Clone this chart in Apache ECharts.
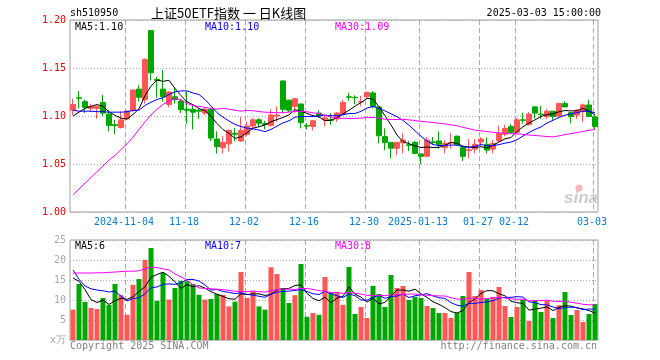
<!DOCTYPE html>
<html>
<head>
<meta charset="utf-8">
<script src="https://cdn.jsdelivr.net/npm/echarts@6/dist/echarts.min.js"></script>
<style>html,body{margin:0;padding:0;background:#fff}#main{width:660px;height:360px}</style>
</head>
<body>
<div id="main"></div>
<script>
// ---- data ----
const dates = [
 '2024-10-22','2024-10-23','2024-10-24','2024-10-25','2024-10-28','2024-10-29','2024-10-30','2024-10-31','2024-11-01',
 '2024-11-04','2024-11-05','2024-11-06','2024-11-07','2024-11-08','2024-11-11','2024-11-12','2024-11-13','2024-11-14','2024-11-15',
 '2024-11-18','2024-11-19','2024-11-20','2024-11-21','2024-11-22','2024-11-25','2024-11-26','2024-11-27','2024-11-28','2024-11-29',
 '2024-12-02','2024-12-03','2024-12-04','2024-12-05','2024-12-06','2024-12-09','2024-12-10','2024-12-11','2024-12-12','2024-12-13',
 '2024-12-16','2024-12-17','2024-12-18','2024-12-19','2024-12-20','2024-12-23','2024-12-24','2024-12-25','2024-12-26','2024-12-27',
 '2024-12-30','2024-12-31','2025-01-02','2025-01-03','2025-01-06','2025-01-07','2025-01-08','2025-01-09','2025-01-10',
 '2025-01-13','2025-01-14','2025-01-15','2025-01-16','2025-01-17','2025-01-20','2025-01-21','2025-01-22','2025-01-23','2025-01-24',
 '2025-01-27','2025-02-05','2025-02-06','2025-02-07','2025-02-10','2025-02-11',
 '2025-02-12','2025-02-13','2025-02-14','2025-02-17','2025-02-18','2025-02-19','2025-02-20','2025-02-21','2025-02-24','2025-02-25','2025-02-26','2025-02-27','2025-02-28',
 '2025-03-03'
];
const opens = [1.106,1.119,1.115,1.108,1.108,1.114,1.102,1.091,1.088,1.097,1.106,1.128,1.117,1.189,1.138,1.128,1.112,1.120,1.1155,1.107,1.107,1.106,1.103,1.107,1.076,1.067,1.071,1.082,1.074,1.081,1.0895,1.096,1.092,1.090,1.100,1.1365,1.1165,1.110,1.1125,1.090,1.089,1.103,1.096,1.096,1.097,1.102,1.120,1.1195,1.1145,1.120,1.124,1.1095,1.0785,1.0725,1.0665,1.072,1.070,1.0725,1.0605,1.058,1.073,1.074,1.067,1.072,1.079,1.067,1.064,1.0655,1.073,1.0705,1.0655,1.074,1.081,1.089,1.083,1.096,1.091,1.1095,1.102,1.0995,1.105,1.100,1.113,1.1035,1.101,1.1045,1.1115,1.099];
const closes = [1.112,1.1185,1.109,1.110,1.110,1.103,1.090,1.090,1.096,1.105,1.127,1.1195,1.159,1.145,1.137,1.120,1.125,1.117,1.1065,1.106,1.104,1.105,1.107,1.077,1.068,1.0725,1.085,1.081,1.085,1.0895,1.096,1.0925,1.091,1.101,1.101,1.107,1.106,1.118,1.093,1.0895,1.095,1.100,1.098,1.0955,1.103,1.114,1.1195,1.119,1.115,1.1245,1.110,1.0795,1.0725,1.0665,1.0725,1.075,1.0695,1.061,1.058,1.075,1.0725,1.0705,1.0715,1.0725,1.0705,1.058,1.0648,1.0705,1.076,1.0645,1.0715,1.082,1.087,1.083,1.096,1.0955,1.102,1.103,1.1015,1.105,1.0995,1.113,1.1095,1.0995,1.106,1.1115,1.0995,1.089];
const highs = [1.118,1.126,1.117,1.113,1.111,1.122,1.106,1.096,1.105,1.106,1.128,1.132,1.160,1.189,1.141,1.148,1.126,1.130,1.118,1.126,1.111,1.108,1.109,1.108,1.084,1.079,1.086,1.0875,1.099,1.094,1.098,1.098,1.095,1.107,1.110,1.137,1.117,1.119,1.113,1.0925,1.096,1.106,1.101,1.103,1.104,1.117,1.124,1.1215,1.121,1.1255,1.126,1.110,1.087,1.073,1.073,1.082,1.074,1.074,1.061,1.078,1.078,1.084,1.075,1.082,1.0795,1.068,1.076,1.076,1.078,1.0775,1.075,1.090,1.091,1.0915,1.098,1.1035,1.104,1.110,1.1105,1.107,1.105,1.114,1.1155,1.104,1.107,1.113,1.117,1.102];
const lows = [1.101,1.108,1.103,1.104,1.097,1.100,1.084,1.081,1.087,1.096,1.104,1.115,1.113,1.137,1.119,1.115,1.109,1.113,1.103,1.092,1.086,1.097,1.101,1.074,1.061,1.061,1.063,1.074,1.073,1.079,1.086,1.089,1.086,1.089,1.094,1.103,1.104,1.103,1.087,1.086,1.085,1.098,1.089,1.091,1.094,1.101,1.116,1.112,1.110,1.118,1.108,1.0715,1.0645,1.056,1.059,1.061,1.0635,1.060,1.050,1.057,1.070,1.066,1.061,1.066,1.069,1.053,1.056,1.061,1.069,1.061,1.061,1.073,1.079,1.082,1.082,1.092,1.090,1.097,1.097,1.097,1.095,1.099,1.109,1.0925,1.097,1.094,1.099,1.086];
const volumes = [7.6,14.0,9.5,8.0,7.75,10.5,8.8,14.0,11.2,6.3,13.8,15.25,20.0,23.0,9.8,16.75,10.1,13.0,14.8,14.7,14.0,11.3,10.1,10.25,11.5,11.3,8.4,9.6,17.0,10.5,12.2,8.4,7.6,18.2,16.5,13.0,9.25,11.2,19.0,5.8,6.75,6.3,15.75,11.8,11.8,8.8,18.25,6.5,8.25,5.5,13.5,11.5,8.25,16.25,13.0,13.5,10.0,10.8,10.5,8.5,8.0,6.75,6.75,5.5,6.75,11.0,17.0,11.0,12.5,10.25,10.75,13.25,8.5,5.75,8.25,10.1,4.75,9.75,7.0,9.8,5.5,8.7,12.0,6.25,7.5,4.5,6.5,9.0];
// moving-average values before enough history is visible
const ma5Head = [1.100,1.104,1.108,1.110];
const ma10Head = [1.106,1.105,1.105,1.105,1.1045,1.1045,1.104,1.104,1.104];
const ma30Head = [1.018,1.024,1.030,1.036,1.042,1.048,1.054,1.059,1.065,1.071,1.078,1.086,1.094,1.101,1.107,1.112,1.116,1.118,1.117,1.113,1.111,1.110,1.109,1.108,1.107,1.108,1.107,1.106,1.105];
const volMa5Head = [15.5,14.7,12.6,10.1];
const volMa10Head = [17.5,15.2,13.5,12.8,12.5,12.3,12.0,12.2,11.0];
const volMa30Head = [16.75,16.75,16.75,16.75,16.8,16.8,16.9,17.0,17.1,17.2,17.2,17.3,17.8,18.2,18.1,17.8,17.5,16.5,15.8,15.0,13.8,13.0,12.9,12.8,12.7,12.6,12.4,12.2,12.1];
// tick labels
const tickIndex = [9,19,29,39,49,58,68,74,87];
const tickText = ['2024-11-04','11-18','12-02','12-16','12-30','2025-01-13','01-27','02-12','03-03'];
const yTicks = [1.00,1.05,1.10,1.15,1.20];
const volTicks = [0,5,10,15,20,25];

// ---- drawing ----
const UP = '#ff5656', DOWN = '#00a600';
function movingAvg(arr, n, head) {
  return arr.map((v, i) => {
    if (i < n - 1) return head[i];
    let s = 0; for (let k = i - n + 1; k <= i; k++) s += arr[k];
    return +(s / n).toFixed(4);
  });
}
const ma5 = movingAvg(closes, 5, ma5Head);
const ma10 = movingAvg(closes, 10, ma10Head);
const ma30 = movingAvg(closes, 30, ma30Head);
const vma5 = movingAvg(volumes, 5, volMa5Head);
const vma10 = movingAvg(volumes, 10, volMa10Head);
const vma30 = movingAvg(volumes, 30, volMa30Head);
const last = a => a[a.length - 1];

const kData = dates.map((d, i) => [opens[i], closes[i], lows[i], highs[i]]);
const volData = volumes.map((v, i) => ({value: v, itemStyle: {color: closes[i] >= opens[i] ? UP : DOWN}}));

const MONO = 'DejaVu Sans Mono';
function txt(x, y, text, fill, font, align) {
  return {type: 'text', x: x, y: y, silent: true,
    style: {text: text, fill: fill, font: font, textAlign: align || 'left', align: align || 'left', textVerticalAlign: 'middle', verticalAlign: 'middle'}};
}
// dashed date separators: drawn as a group of short solid segments, just left of each labelled day's candle
function sepSeries(xIdx, yIdx, lo, hi) {
  return {type: 'custom', xAxisIndex: xIdx, yAxisIndex: yIdx, z: 3,
    data: tickIndex.map(i => [i, lo, hi]),
    encode: {x: 0, y: [1, 2]},
    renderItem: (params, api) => {
      const top = api.coord([api.value(0), api.value(2)]);
      const bot = api.coord([api.value(0), api.value(1)]);
      const band = api.size([1, 0])[0];
      const x = Math.round(top[0] - band * 5 / 12) + 0.5;
      const children = [];
      for (let y = top[1]; y < bot[1]; y += 8) {
        children.push({type: 'line', shape: {x1: x, y1: y, x2: x, y2: Math.min(y + 5, bot[1])},
          style: {stroke: '#a8a8a8', lineWidth: 1}});
      }
      return {type: 'group', children: children};
    }};
}

const chart = echarts.init(document.getElementById('main'), null, {renderer: 'canvas'});
chart.setOption({
  animation: false,
  backgroundColor: '#fff',
  grid: [
    {left: 70, top: 20, width: 528, height: 192, show: true, borderColor: '#a0a0a0', borderWidth: 1},
    {left: 70, top: 240, width: 528, height: 100, show: true, borderColor: '#a0a0a0', borderWidth: 1}
  ],
  xAxis: [
    {type: 'category', gridIndex: 0, data: dates, boundaryGap: true,
     axisLine: {show: false}, axisTick: {show: false},
     axisLabel: {interval: (i) => tickIndex.indexOf(i) >= 0, formatter: (v, i) => tickText[tickIndex.indexOf(i)] || '',
       color: '#0a7ad0', fontFamily: MONO, fontSize: 10, margin: 5, padding: [0, 6, 0, 0]},
     splitLine: {show: false}},
    {type: 'category', gridIndex: 1, data: dates, boundaryGap: true,
     axisLine: {show: false}, axisTick: {show: false}, axisLabel: {show: false}, splitLine: {show: false}}
  ],
  yAxis: [
    {type: 'value', gridIndex: 0, min: yTicks[0], max: yTicks[yTicks.length - 1], interval: 0.05,
     axisLine: {show: false}, axisTick: {show: false},
     axisLabel: {color: '#e60000', fontFamily: MONO, fontSize: 10, margin: 4, formatter: v => v.toFixed(2)},
     splitLine: {show: true, lineStyle: {color: '#aaaaaa', type: [1, 2], width: 1}}},
    {type: 'value', gridIndex: 1, min: volTicks[0], max: volTicks[volTicks.length - 1], interval: 5,
     axisLine: {show: false}, axisTick: {show: false},
     axisLabel: {color: '#a8a8a8', fontFamily: MONO, fontSize: 10, margin: 4, formatter: v => v === 0 ? 'x万' : String(v)},
     splitLine: {show: true, lineStyle: {color: '#aaaaaa', type: [1, 2], width: 1}}}
  ],
  series: [
    sepSeries(0, 0, yTicks[0], yTicks[yTicks.length - 1]),
    sepSeries(1, 1, volTicks[0], volTicks[volTicks.length - 1]),
    {type: 'candlestick', xAxisIndex: 0, yAxisIndex: 0, data: kData, barWidth: 5, z: 4,
     itemStyle: {color: UP, color0: DOWN, borderColor: UP, borderColor0: DOWN, borderWidth: 1}},
    {type: 'line', xAxisIndex: 0, yAxisIndex: 0, data: ma5, showSymbol: false, z: 5, lineStyle: {color: '#000', width: 1}, silent: true},
    {type: 'line', xAxisIndex: 0, yAxisIndex: 0, data: ma10, showSymbol: false, z: 5, lineStyle: {color: '#0000ff', width: 1}, silent: true},
    {type: 'line', xAxisIndex: 0, yAxisIndex: 0, data: ma30, showSymbol: false, z: 5, lineStyle: {color: '#ff00ff', width: 1}, silent: true},
    {type: 'bar', xAxisIndex: 1, yAxisIndex: 1, data: volData, barWidth: 5, z: 4},
    {type: 'line', xAxisIndex: 1, yAxisIndex: 1, data: vma5, showSymbol: false, z: 5, lineStyle: {color: '#000', width: 1}, silent: true},
    {type: 'line', xAxisIndex: 1, yAxisIndex: 1, data: vma10, showSymbol: false, z: 5, lineStyle: {color: '#0000ff', width: 1}, silent: true},
    {type: 'line', xAxisIndex: 1, yAxisIndex: 1, data: vma30, showSymbol: false, z: 5, lineStyle: {color: '#ff00ff', width: 1}, silent: true}
  ],
  graphic: [
    txt(70, 13, 'sh510950', '#000', '10px "' + MONO + '"'),
    txt(151, 13, '上证50ETF指数 一 日K线图', '#000', '13px "Noto Sans CJK SC"'),
    txt(601, 13, '2025-03-03 15:00:00', '#000', '10px "' + MONO + '"', 'right'),
    txt(75, 27, 'MA5:' + last(ma5).toFixed(2), '#000', '10px "' + MONO + '"'),
    txt(205, 27, 'MA10:' + last(ma10).toFixed(2), '#0000ff', '10px "' + MONO + '"'),
    txt(335, 27, 'MA30:' + last(ma30).toFixed(2), '#ff00ff', '10px "' + MONO + '"'),
    txt(75, 246, 'MA5:' + Math.floor(last(vma5)), '#000', '10px "' + MONO + '"'),
    txt(205, 246, 'MA10:' + Math.floor(last(vma10)), '#0000ff', '10px "' + MONO + '"'),
    txt(335, 246, 'MA30:' + Math.floor(last(vma30)), '#ff00ff', '10px "' + MONO + '"'),
    txt(70, 346, 'Copyright 2025 SINA.COM', '#808080', '10px "' + MONO + '"'),
    txt(597, 346, 'http://finance.sina.com.cn', '#808080', '10px "' + MONO + '"', 'right'),
    {type: 'circle', shape: {cx: 579, cy: 188, r: 3.5}, silent: true, style: {fill: 'rgba(235,90,90,0.45)'}},
    txt(564, 198, 'sina', 'rgba(170,170,170,0.6)', 'italic bold 17px "Liberation Sans"')
  ]
});
</script>
</body>
</html>
